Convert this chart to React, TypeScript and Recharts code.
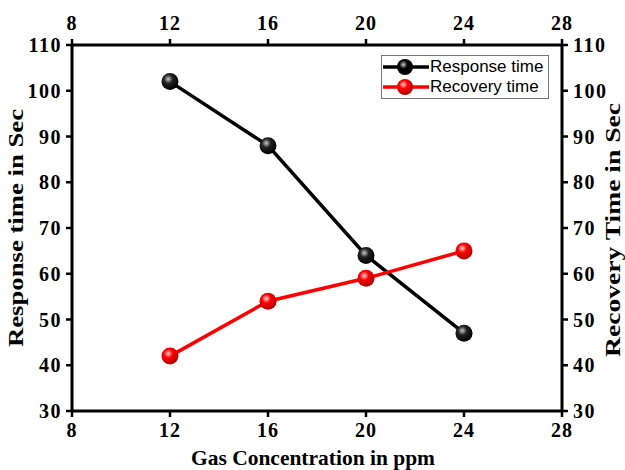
import React from "react";
import { LineChart, Line, XAxis, YAxis, Legend } from "recharts";

const concentrations = [12, 16, 20, 24];
const responseTime = [102, 88, 64, 47];
const recoveryTime = [42, 54, 59, 65];
const xTicks = [8, 12, 16, 20, 24, 28];
const yTicks = [30, 40, 50, 60, 70, 80, 90, 100, 110];

const data = concentrations.map((c, i) => ({
  conc: c,
  response: responseTime[i],
  recovery: recoveryTime[i],
}));

const serif = "'Liberation Serif', 'Times New Roman', serif";
const sans = "'Liberation Sans', Arial, sans-serif";

const xTickStyle = { fontFamily: serif, fontWeight: 700, fontSize: 20, fill: "#000", letterSpacing: 1 };
const yTickStyle = { fontFamily: serif, fontWeight: 700, fontSize: 20, fill: "#000", letterSpacing: 1.5 };
const titleStyle = { fontFamily: serif, fontWeight: 700, fontSize: 21, fill: "#000" };

const Ball = (props: any) => {
  const { cx, cy, grad } = props;
  if (cx == null || cy == null) return null;
  return <circle cx={cx} cy={cy} r={8.5} fill={`url(#${grad})`} stroke="none" />;
};

const BottomTitle = (props: any) => {
  const vb = props.viewBox || {};
  return (
    <text
      x={vb.x + vb.width / 2 - 4}
      y={vb.y + 54}
      textAnchor="middle"
      textLength={244}
      lengthAdjust="spacingAndGlyphs"
      style={titleStyle}
    >
      Gas Concentration in ppm
    </text>
  );
};

const LeftTitle = (props: any) => {
  const vb = props.viewBox || {};
  const cx = vb.x + 23;
  const cy = vb.y + vb.height / 2;
  return (
    <text
      x={cx}
      y={cy}
      transform={`rotate(-90 ${cx} ${cy})`}
      textAnchor="middle"
      textLength={238}
      lengthAdjust="spacingAndGlyphs"
      style={titleStyle}
    >
      Response time in Sec
    </text>
  );
};

const RightTitle = (props: any) => {
  const vb = props.viewBox || {};
  const cx = vb.x + 58;
  const cy = vb.y + vb.height / 2 + 2;
  return (
    <text
      x={cx}
      y={cy}
      transform={`rotate(-90 ${cx} ${cy})`}
      textAnchor="middle"
      textLength={254}
      lengthAdjust="spacingAndGlyphs"
      style={titleStyle}
    >
      Recovery Time in Sec
    </text>
  );
};

const legendItems = [
  { label: "Response time", color: "#000", hi: "#c8c8c8", lo: "#000" },
  { label: "Recovery time", color: "#f00", hi: "#ffd0d0", lo: "#b00000" },
];

const LegendContent = () => (
  <div
    style={{
      width: 168,
      height: 44,
      border: "1px solid #777",
      background: "#fff",
      fontFamily: sans,
      fontSize: 17,
      boxSizing: "border-box",
      paddingTop: 1,
    }}
  >
    {legendItems.map((e, i) => (
      <div key={e.label} style={{ display: "flex", alignItems: "center", height: 20 }}>
        <svg width={46} height={20} style={{ marginLeft: 1, flex: "none" }}>
          <defs>
            <radialGradient id={`lg${i}`} cx="40%" cy="35%" r="65%">
              <stop offset="0%" stopColor={e.hi} />
              <stop offset="40%" stopColor={e.color} />
              <stop offset="100%" stopColor={e.lo} />
            </radialGradient>
          </defs>
          <line x1={0} y1={10} x2={46} y2={10} stroke={e.color} strokeWidth={3.5} />
          <circle cx={22} cy={10} r={8} fill={`url(#lg${i})`} />
        </svg>
        <span style={{ marginLeft: 1, color: "#000", whiteSpace: "nowrap" }}>{e.label}</span>
      </div>
    ))}
  </div>
);

export default function App() {
  return (
    <div style={{ position: "absolute", left: 0, top: 0, background: "#fff" }}>
      <LineChart
        width={625}
        height={470}
        data={data}
        margin={{ top: 0, right: 0, bottom: 0, left: 0 }}
      >
        <defs>
          <radialGradient id="gBlack" cx="40%" cy="35%" r="65%">
            <stop offset="0%" stopColor="#c8c8c8" />
            <stop offset="40%" stopColor="#222" />
            <stop offset="100%" stopColor="#000" />
          </radialGradient>
          <radialGradient id="gRed" cx="40%" cy="35%" r="65%">
            <stop offset="0%" stopColor="#ffd0d0" />
            <stop offset="40%" stopColor="#f00" />
            <stop offset="100%" stopColor="#b00000" />
          </radialGradient>
        </defs>
        <XAxis
          xAxisId="bottom"
          dataKey="conc"
          type="number"
          domain={[8, 28]}
          ticks={xTicks}
          orientation="bottom"
          height={59}
          stroke="#000"
          axisLine={{ stroke: "#000", strokeWidth: 3 }}
          tickLine={{ stroke: "#000", strokeWidth: 2.5 }}
          tickSize={6}
          tickMargin={6}
          tick={xTickStyle}
          label={<BottomTitle />}
        />
        <XAxis
          xAxisId="top"
          dataKey="conc"
          type="number"
          domain={[8, 28]}
          ticks={xTicks}
          orientation="top"
          height={45}
          stroke="#000"
          axisLine={{ stroke: "#000", strokeWidth: 3 }}
          tickLine={{ stroke: "#000", strokeWidth: 2.5 }}
          tickSize={6}
          tickMargin={9}
          tick={xTickStyle}
        />
        <YAxis
          yAxisId="left"
          type="number"
          domain={[30, 110]}
          ticks={yTicks}
          orientation="left"
          width={72}
          stroke="#000"
          axisLine={{ stroke: "#000", strokeWidth: 3 }}
          tickLine={{ stroke: "#000", strokeWidth: 2.5 }}
          tickSize={6}
          tickMargin={4}
          tick={yTickStyle}
          label={<LeftTitle />}
        />
        <YAxis
          yAxisId="right"
          type="number"
          domain={[30, 110]}
          ticks={yTicks}
          orientation="right"
          width={63}
          stroke="#000"
          axisLine={{ stroke: "#000", strokeWidth: 3 }}
          tickLine={{ stroke: "#000", strokeWidth: 2.5 }}
          tickSize={6}
          tickMargin={5}
          tick={yTickStyle}
          label={<RightTitle />}
        />
        <Legend
          layout="horizontal"
          align="center"
          verticalAlign="middle"
          content={<LegendContent />}
          wrapperStyle={{ position: "absolute", left: 381, top: 55, width: 168, height: 44 }}
        />
        <Line
          xAxisId="bottom"
          yAxisId="left"
          dataKey="response"
          name="Response time"
          stroke="#000"
          strokeWidth={3.5}
          dot={<Ball grad="gBlack" />}
          activeDot={false}
          isAnimationActive={false}
        />
        <Line
          xAxisId="top"
          yAxisId="right"
          dataKey="recovery"
          name="Recovery time"
          stroke="#f00"
          strokeWidth={3.5}
          dot={<Ball grad="gRed" />}
          activeDot={false}
          isAnimationActive={false}
        />
      </LineChart>
    </div>
  );
}
